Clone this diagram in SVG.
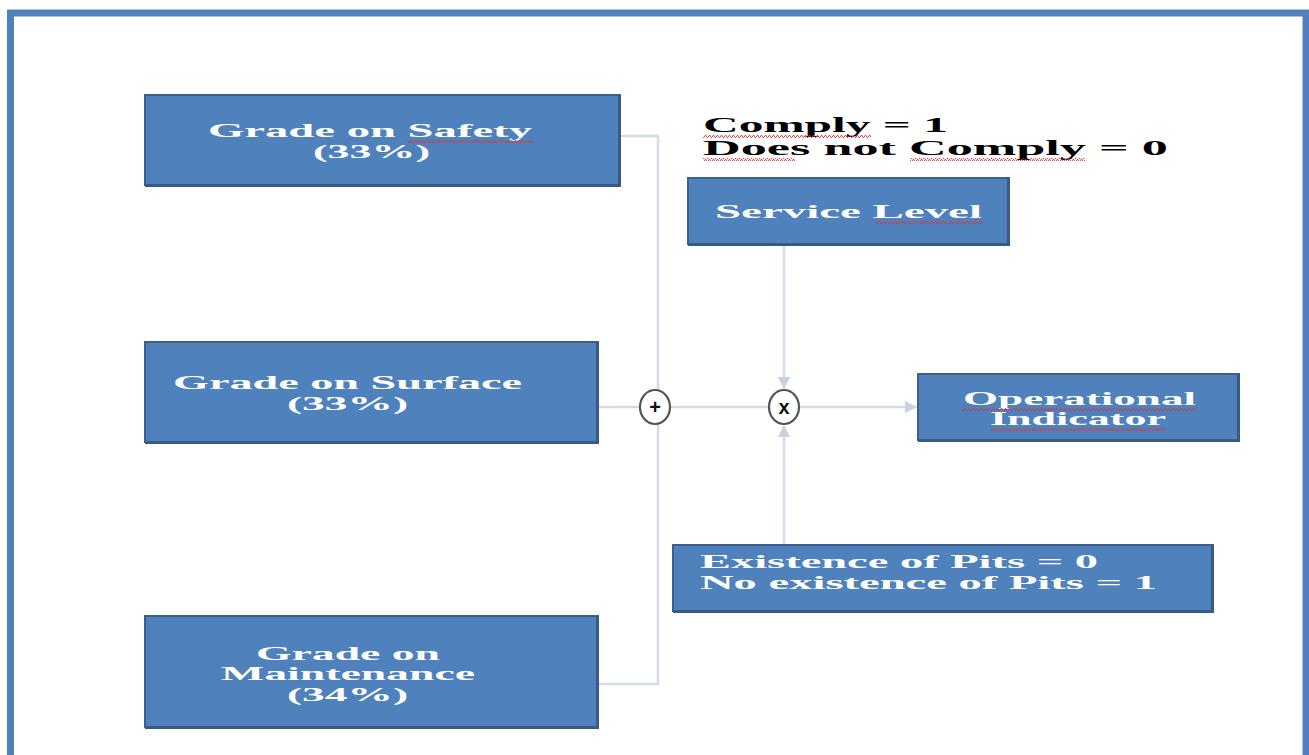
<svg xmlns="http://www.w3.org/2000/svg" width="1309" height="755" viewBox="0 0 1309 755">
  <defs>
    <style>
      .box { fill: #4f81bd; stroke: #3b6090; stroke-width: 2; }
      .shade { fill: none; stroke: #385a85; stroke-width: 3; }
      .lbl { font-family: "Liberation Serif", "Times New Roman", serif; font-weight: bold; font-size: 19px; fill: #ffffff; }
      .note { font-family: "Liberation Serif", "Times New Roman", serif; font-weight: bold; font-size: 20px; fill: #000000; }
      .wire { fill: none; stroke: #d3dbe6; stroke-width: 2.5; }
      .op { fill: #ffffff; stroke: #555555; stroke-width: 2.2; }
      .opsym { font-family: "Liberation Sans", Arial, sans-serif; font-weight: bold; font-size: 20px; fill: #111111; text-anchor: middle; }
      .squig { fill: url(#wave); }
    </style>
    <marker id="arr" viewBox="0 0 10 10" refX="9" refY="5" markerWidth="5" markerHeight="5" orient="auto" markerUnits="strokeWidth">
      <path d="M0,0 L10,5 L0,10 z" fill="#c9d3e0"/>
    </marker>
    <pattern id="wave" width="4" height="3" patternUnits="userSpaceOnUse">
      <polyline points="0,2.5 1,0.5 2,0.5 3,2.5 4,2.5" fill="none" stroke="#d43a3a" stroke-width="0.9"/>
    </pattern>
  </defs>

  <rect width="1309" height="755" fill="#ffffff"/>

  <!-- page frame -->
  <path d="M10.5,755 V13 H1306 V755" fill="none" stroke="#4f81bd" stroke-width="7"/>

  <!-- connectors -->
  <g id="connectors">
    <polyline class="wire" points="621,136 658,136 658,684 599,684"/>
    <line class="wire" x1="599" y1="407" x2="640" y2="407"/>
    <line class="wire" x1="671" y1="407" x2="768" y2="407"/>
    <line class="wire" x1="800" y1="407" x2="916" y2="407" marker-end="url(#arr)"/>
    <line class="wire" x1="784" y1="245" x2="784" y2="388" marker-end="url(#arr)"/>
    <line class="wire" x1="784" y1="545" x2="784" y2="426" marker-end="url(#arr)"/>
  </g>

  <!-- legend -->
  <g id="legend">
    <text class="note" x="703" y="132" textLength="245" lengthAdjust="spacingAndGlyphs">Comply = 1</text>
    <text class="note" x="703" y="155" textLength="465" lengthAdjust="spacingAndGlyphs">Does not Comply = 0</text>
    <rect class="squig" x="703" y="135" width="168" height="3"/>
    <rect class="squig" x="703" y="158" width="92" height="3"/>
    <rect class="squig" x="910" y="158" width="175" height="3"/>
  </g>

  <!-- source grades -->
  <g id="safety">
    <rect class="box" x="145" y="95" width="475" height="90"/>
    <path class="shade" d="M619.5,95 V185.5 H145"/>
    <text class="lbl" x="208" y="137" textLength="324" lengthAdjust="spacingAndGlyphs">Grade on Safety</text>
    <text class="lbl" x="313" y="158" textLength="117" lengthAdjust="spacingAndGlyphs">(33%)</text>
    <rect class="squig" x="407" y="140" width="126" height="3"/>
  </g>

  <g id="surface">
    <rect class="box" x="145" y="342" width="453" height="100"/>
    <path class="shade" d="M597.5,342 V442.5 H145"/>
    <text class="lbl" x="173" y="389" textLength="349" lengthAdjust="spacingAndGlyphs">Grade on Surface</text>
    <text class="lbl" x="287" y="410" textLength="121" lengthAdjust="spacingAndGlyphs">(33%)</text>
  </g>

  <g id="maintenance">
    <rect class="box" x="145" y="616" width="453" height="111"/>
    <path class="shade" d="M597.5,616 V727.5 H145"/>
    <text class="lbl" x="256" y="660" textLength="184" lengthAdjust="spacingAndGlyphs">Grade on</text>
    <text class="lbl" x="221" y="680" textLength="254" lengthAdjust="spacingAndGlyphs">Maintenance</text>
    <text class="lbl" x="287" y="701" textLength="121" lengthAdjust="spacingAndGlyphs">(34%)</text>
  </g>

  <!-- operators -->
  <g id="sum">
    <ellipse class="op" cx="655" cy="407" rx="15" ry="17"/>
    <text class="opsym" x="655" y="414">+</text>
  </g>
  <g id="product">
    <ellipse class="op" cx="784" cy="407" rx="15" ry="17"/>
    <text class="opsym" x="784" y="414">x</text>
  </g>

  <g id="service-level">
    <rect class="box" x="688" y="178" width="321" height="66"/>
    <path class="shade" d="M1008.5,178 V244.5 H688"/>
    <text class="lbl" x="715" y="218" textLength="267" lengthAdjust="spacingAndGlyphs">Service Level</text>
    <rect class="squig" x="875" y="221" width="108" height="3"/>
  </g>

  <g id="operational-indicator">
    <rect class="box" x="918" y="374" width="321" height="66"/>
    <path class="shade" d="M1238.5,374 V440.5 H918"/>
    <text class="lbl" x="963" y="405" textLength="233" lengthAdjust="spacingAndGlyphs">Operational</text>
    <text class="lbl" x="990" y="425" textLength="176" lengthAdjust="spacingAndGlyphs">Indicator</text>
    <rect class="squig" x="963" y="408" width="233" height="3"/>
    <rect class="squig" x="990" y="428" width="176" height="3"/>
  </g>

  <g id="pits">
    <rect class="box" x="673" y="545" width="540" height="66"/>
    <path class="shade" d="M1212.5,545 V611.5 H673"/>
    <text class="lbl" x="700" y="568" textLength="398" lengthAdjust="spacingAndGlyphs">Existence of Pits = 0</text>
    <text class="lbl" x="700" y="589" textLength="457" lengthAdjust="spacingAndGlyphs">No existence of Pits = 1</text>
  </g>
</svg>
